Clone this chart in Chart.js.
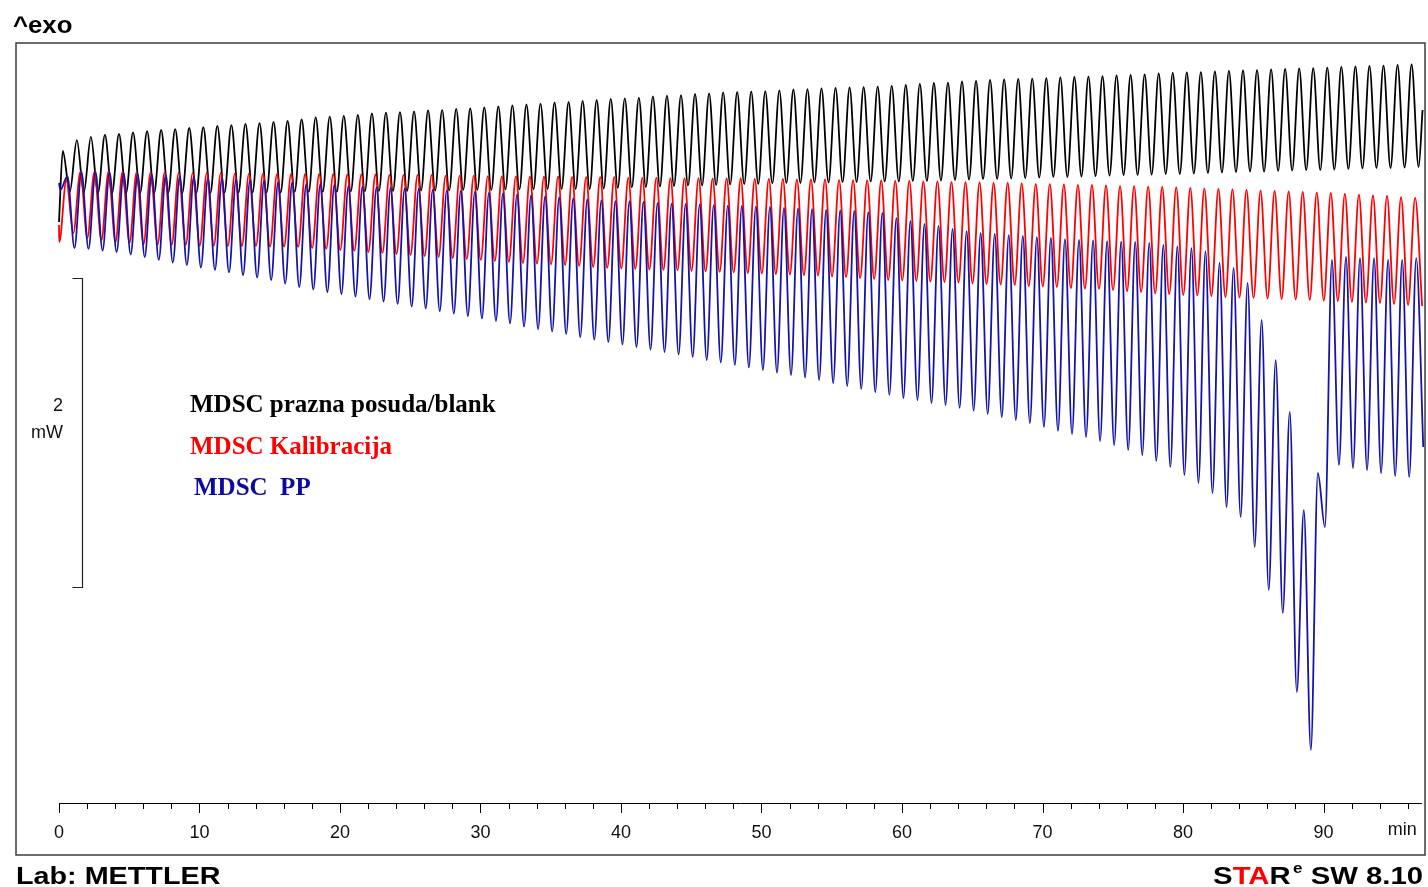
<!DOCTYPE html>
<html>
<head>
<meta charset="utf-8">
<title>MDSC</title>
<script src="https://cdn.jsdelivr.net/npm/chart.js@4.4.1/dist/chart.umd.min.js"></script>
<style>
  html, body { margin: 0; padding: 0; background: #fff; }
  canvas { display: block; }
</style>
</head>
<body>
<canvas id="mdscChart" width="1428" height="887"></canvas>
<script>
/* =========================================
   MDSC heat flow – blank, calibration, PP
========================================= */

// ---------------- Axis ----------------

const xTicks = [0, 2, 4, 6, 8, 10, 12, 14, 16, 18, 20, 22, 24, 26, 28, 30, 32, 34, 36, 38,
                40, 42, 44, 46, 48, 50, 52, 54, 56, 58, 60, 62, 64, 66, 68, 70, 72, 74, 76, 78,
                80, 82, 84, 86, 88, 90, 92, 94, 96];
const xTickLabels = [0, 10, 20, 30, 40, 50, 60, 70, 80, 90];
const xUnit = "min";
const axisEnd = 97;

const scaleBar = [0, 2];      // mW
const scaleBarLabel = ["2", "mW"];

// ---------------- Blank pan (mW at each peak / trough, 1 min period) ----------------

const blankStart = 2.362;
const blankFirstT = 0.27;   // first peak
const blankPeaks = [
  2.822, 2.893, 2.913, 2.926, 2.932, 2.942, 2.951, 2.958, 2.964, 2.971,
  2.977, 2.984, 2.990, 2.997, 3.003, 3.010, 3.016, 3.026, 3.039, 3.045,
  3.049, 3.055, 3.065, 3.071, 3.074, 3.078, 3.084, 3.087, 3.094, 3.097,
  3.104, 3.110, 3.117, 3.123, 3.129, 3.136, 3.139, 3.146, 3.152, 3.159,
  3.162, 3.168, 3.175, 3.181, 3.184, 3.191, 3.194, 3.201, 3.204, 3.207,
  3.210, 3.214, 3.220, 3.223, 3.227, 3.230, 3.233, 3.236, 3.239, 3.243,
  3.249, 3.256, 3.262, 3.265, 3.272, 3.275, 3.282, 3.285, 3.288, 3.291,
  3.294, 3.298, 3.301, 3.304, 3.307, 3.311, 3.314, 3.317, 3.324, 3.327,
  3.330, 3.333, 3.337, 3.340, 3.343, 3.346, 3.350, 3.353, 3.356, 3.359,
  3.362, 3.366, 3.369, 3.372, 3.375, 3.379, 3.382
];
const blankTroughs = [
  2.557, 2.553, 2.550, 2.550, 2.550, 2.550, 2.550, 2.550, 2.550, 2.550,
  2.550, 2.550, 2.553, 2.553, 2.553, 2.553, 2.557, 2.557, 2.557, 2.557,
  2.560, 2.560, 2.563, 2.563, 2.563, 2.566, 2.566, 2.566, 2.570, 2.570,
  2.570, 2.573, 2.573, 2.573, 2.576, 2.576, 2.576, 2.576, 2.579, 2.583,
  2.586, 2.589, 2.592, 2.595, 2.599, 2.599, 2.602, 2.605, 2.608, 2.608,
  2.612, 2.615, 2.615, 2.618, 2.618, 2.621, 2.621, 2.625, 2.625, 2.625,
  2.628, 2.628, 2.631, 2.634, 2.638, 2.641, 2.641, 2.644, 2.647, 2.650,
  2.654, 2.654, 2.657, 2.660, 2.663, 2.667, 2.667, 2.670, 2.673, 2.673,
  2.676, 2.680, 2.683, 2.686, 2.689, 2.689, 2.693, 2.696, 2.699, 2.699,
  2.702, 2.706, 2.709, 2.712, 2.712, 2.715, 2.718
];
const blankEndT = 97.05;
const blankEnd = 3.087;

// ---------------- Calibration ----------------

const calStart = 2.343;
const calFirstT = 0.02;     // first trough
const calTroughs = [
  2.233, 2.291, 2.259, 2.246, 2.233, 2.227, 2.220, 2.217, 2.214, 2.214,
  2.210, 2.210, 2.207, 2.207, 2.207, 2.204, 2.204, 2.201, 2.194, 2.188,
  2.181, 2.175, 2.168, 2.162, 2.155, 2.149, 2.142, 2.136, 2.129, 2.123,
  2.117, 2.110, 2.104, 2.097, 2.094, 2.087, 2.084, 2.078, 2.071, 2.065,
  2.061, 2.058, 2.055, 2.052, 2.049, 2.045, 2.042, 2.039, 2.036, 2.032,
  2.029, 2.026, 2.023, 2.019, 2.016, 2.010, 2.006, 2.000, 1.994, 1.987,
  1.984, 1.981, 1.977, 1.974, 1.971, 1.964, 1.961, 1.958, 1.955, 1.948,
  1.945, 1.942, 1.935, 1.932, 1.929, 1.922, 1.916, 1.909, 1.900, 1.896,
  1.890, 1.887, 1.883, 1.877, 1.874, 1.871, 1.867, 1.864, 1.861, 1.858,
  1.854, 1.851, 1.845, 1.841, 1.838, 1.832, 1.825, 1.819
];
const calPeaks = [
  2.634, 2.686, 2.686, 2.686, 2.686, 2.683, 2.683, 2.683, 2.680, 2.680,
  2.680, 2.680, 2.676, 2.676, 2.676, 2.673, 2.673, 2.673, 2.673, 2.673,
  2.670, 2.670, 2.670, 2.667, 2.667, 2.667, 2.667, 2.663, 2.663, 2.663,
  2.660, 2.660, 2.660, 2.657, 2.657, 2.657, 2.654, 2.654, 2.654, 2.654,
  2.650, 2.650, 2.650, 2.647, 2.647, 2.647, 2.644, 2.644, 2.644, 2.641,
  2.641, 2.641, 2.638, 2.638, 2.638, 2.634, 2.634, 2.631, 2.631, 2.628,
  2.628, 2.625, 2.625, 2.621, 2.621, 2.618, 2.615, 2.615, 2.612, 2.608,
  2.608, 2.605, 2.602, 2.602, 2.599, 2.595, 2.595, 2.592, 2.589, 2.586,
  2.583, 2.579, 2.576, 2.573, 2.570, 2.566, 2.563, 2.560, 2.557, 2.553,
  2.550, 2.544, 2.540, 2.534, 2.531, 2.524, 2.518
];

// ---------------- PP sample ----------------

const ppStart = 2.615;
const ppFirstT = 0.10;      // first trough
const ppTroughs = [
  2.570, 2.194, 2.188, 2.178, 2.168, 2.152, 2.136, 2.117, 2.100, 2.084,
  2.068, 2.052, 2.036, 2.019, 2.003, 1.987, 1.964, 1.942, 1.926, 1.909,
  1.896, 1.880, 1.864, 1.848, 1.832, 1.816, 1.803, 1.786, 1.770, 1.754,
  1.738, 1.722, 1.706, 1.686, 1.670, 1.654, 1.638, 1.618, 1.602, 1.586,
  1.570, 1.553, 1.537, 1.521, 1.505, 1.489, 1.469, 1.453, 1.437, 1.421,
  1.405, 1.388, 1.372, 1.356, 1.340, 1.320, 1.301, 1.282, 1.262, 1.243,
  1.223, 1.210, 1.191, 1.178, 1.159, 1.142, 1.120, 1.100, 1.081, 1.061,
  1.036, 1.010, 0.990, 0.971, 0.945, 0.919, 0.887, 0.854, 0.816, 0.777,
  0.725, 0.673, 0.608, 0.518, 0.453, 0.259, -0.019, -0.168, -0.680, -1.055,
  0.388, 0.790, 0.770, 0.757, 0.738, 0.718, 0.712
];
const ppPeaks = [
  2.660, 2.686, 2.686, 2.683, 2.680, 2.673, 2.670, 2.667, 2.660, 2.654,
  2.647, 2.644, 2.638, 2.634, 2.628, 2.621, 2.618, 2.608, 2.608, 2.602,
  2.595, 2.592, 2.586, 2.583, 2.579, 2.576, 2.570, 2.566, 2.563, 2.557,
  2.550, 2.547, 2.540, 2.534, 2.528, 2.521, 2.515, 2.508, 2.502, 2.498,
  2.495, 2.492, 2.485, 2.482, 2.479, 2.476, 2.472, 2.469, 2.466, 2.463,
  2.460, 2.453, 2.450, 2.447, 2.440, 2.437, 2.434, 2.427, 2.421, 2.388,
  2.369, 2.350, 2.337, 2.317, 2.304, 2.291, 2.285, 2.278, 2.272, 2.265,
  2.259, 2.252, 2.246, 2.243, 2.239, 2.236, 2.233, 2.227, 2.214, 2.204,
  2.194, 2.172, 2.097, 2.065, 1.968, 1.728, 1.469, 1.133, 0.498, 0.738,
  2.117, 2.136, 2.129, 2.129, 2.117, 2.117, 2.129
];
const ppEndT = 97.1;
const ppEnd = 0.906;

// ---------------- Build traces ----------------

// extrema sit half a minute apart, starting at firstT
function buildTrace(startVal, firstT, first, second, endT, endVal) {
  const pts = [{ x: 0, y: startVal }];
  for (let i = 0; i < first.length; i++) {
    pts.push({ x: firstT + i, y: first[i] });
    if (i < second.length) pts.push({ x: firstT + i + 0.5, y: second[i] });
  }
  if (endVal !== null) pts.push({ x: endT, y: endVal });
  return pts;
}

const blankData = buildTrace(blankStart, blankFirstT, blankPeaks, blankTroughs, blankEndT, blankEnd);
const calData = buildTrace(calStart, calFirstT, calTroughs, calPeaks, null, null);
const ppData = buildTrace(ppStart, ppFirstT, ppTroughs, ppPeaks, ppEndT, ppEnd);

const legendItems = [
  { text: "MDSC prazna posuda/blank", color: "#000000", dx: 0 },
  { text: "MDSC Kalibracija", color: "#ff0000", dx: 0 },
  { text: "MDSC  PP", color: "#0a0aa0", dx: 4 }
];

// ---------------- Fonts ----------------

const SANS = '"Liberation Sans", Arial, sans-serif';
const SERIF = '"Liberation Serif", "Times New Roman", serif';

// draws a row of coloured pieces, stretched horizontally
function stretchText(ctx, parts, x, base, sx, align) {
  let w = 0;
  parts.forEach(p => { ctx.font = p.font; w += ctx.measureText(p.text).width + (p.gap || 0); });
  const start = align === "right" ? x - w * sx : x;
  ctx.save();
  ctx.translate(start, base);
  ctx.scale(sx, 1);
  ctx.textAlign = "left";
  ctx.textBaseline = "alphabetic";
  let cx = 0;
  parts.forEach(p => {
    ctx.font = p.font;
    ctx.fillStyle = p.color;
    cx += p.gap || 0;
    ctx.fillText(p.text, cx, p.dy || 0);
    cx += ctx.measureText(p.text).width;
  });
  ctx.restore();
}

// ---------------- Decorations ----------------

const decor = {
  id: "decor",
  afterDraw(chart) {
    const { ctx, chartArea: a, scales: { x, y } } = chart;
    const axisY = a.bottom;
    ctx.save();

    // frame
    ctx.strokeStyle = "#3c3c3c";
    ctx.lineWidth = 1.5;
    ctx.strokeRect(a.left, a.top, a.right - a.left, x.bottom - a.top);

    // time axis with ticks
    ctx.strokeStyle = "#000";
    ctx.lineWidth = 1;
    ctx.beginPath();
    ctx.moveTo(x.getPixelForValue(0), axisY + 0.5);
    ctx.lineTo(x.getPixelForValue(axisEnd), axisY + 0.5);
    xTicks.forEach(v => {
      const px = Math.round(x.getPixelForValue(v)) + 0.5;
      ctx.moveTo(px, axisY);
      ctx.lineTo(px, axisY + (xTickLabels.includes(v) ? 10 : 6));
    });
    ctx.stroke();

    ctx.fillStyle = "#111";
    ctx.font = "18px " + SANS;
    ctx.textAlign = "center";
    ctx.textBaseline = "middle";
    ctx.fillText(xUnit, x.getPixelForValue(95.6), axisY + 27);

    // 2 mW scale bar
    const barX = a.left + 66.5;
    const yLo = Math.round(y.getPixelForValue(scaleBar[0])) + 0.5;
    const yHi = Math.round(y.getPixelForValue(scaleBar[1])) + 0.5;
    ctx.strokeStyle = "#222";
    ctx.lineWidth = 1.2;
    ctx.beginPath();
    ctx.moveTo(barX - 10, yHi);
    ctx.lineTo(barX, yHi);
    ctx.lineTo(barX, yLo);
    ctx.lineTo(barX - 10, yLo);
    ctx.stroke();
    const mid = (yLo + yHi) / 2;
    ctx.textAlign = "right";
    ctx.fillText(scaleBarLabel[0], a.left + 47, mid - 27);
    ctx.fillText(scaleBarLabel[1], a.left + 47, mid);

    // curve names
    ctx.textAlign = "left";
    ctx.textBaseline = "alphabetic";
    ctx.font = "bold 25px " + SERIF;
    legendItems.forEach((it, i) => {
      ctx.fillStyle = it.color;
      ctx.fillText(it.text, a.left + 174 + it.dx, a.top + 369 + i * 41.5);
    });

    // header / footer
    stretchText(ctx, [{ text: "^exo", color: "#000", font: "bold 23px " + SANS }], 13, 33, 1.12, "left");
    stretchText(ctx, [{ text: "Lab: METTLER", color: "#000", font: "bold 23px " + SANS }], 16, 884, 1.25, "left");
    stretchText(ctx, [
      { text: "S", color: "#000", font: "bold 24px " + SANS },
      { text: "TA", color: "#ff0000", font: "bold 24px " + SANS },
      { text: "R", color: "#000", font: "bold 24px " + SANS },
      { text: "e", color: "#000", font: "bold 14px " + SANS, dy: -11, gap: 2 },
      { text: " SW 8.10", color: "#000", font: "bold 24px " + SANS }
    ], 1423, 884, 1.22, "right");

    ctx.restore();
  }
};

// ---------------- Chart ----------------

const line = (data, color) => ({
  data: data,
  borderColor: color,
  borderWidth: 1.8,
  pointRadius: 0,
  fill: false,
  cubicInterpolationMode: "monotone"
});

new Chart(document.getElementById("mdscChart"), {
  type: "line",
  data: {
    datasets: [
      line(ppData, "#1414a8"),
      line(calData, "#ff0000"),
      line(blankData, "#000000")
    ]
  },
  options: {
    responsive: false,
    animation: false,
    devicePixelRatio: 1,
    parsing: false,
    layout: { padding: { left: 16, right: 3, top: 43, bottom: 32 } },
    plugins: { legend: { display: false }, tooltip: { enabled: false } },
    scales: {
      x: {
        type: "linear",
        min: -3.06,
        max: 97.224,
        border: { display: false },
        grid: { display: false, drawTicks: false },
        afterBuildTicks: scale => { scale.ticks = xTicks.map(v => ({ value: v })); },
        afterFit: scale => { scale.height = 52; },
        ticks: {
          autoSkip: false,
          maxRotation: 0,
          padding: 19,
          color: "#111",
          font: { family: SANS, size: 18 },
          callback: v => (xTickLabels.includes(v) ? String(v) : "")
        }
      },
      y: {
        type: "linear",
        display: false,
        min: -1.398,
        max: 3.521
      }
    }
  },
  plugins: [decor]
});
</script>
</body>
</html>
